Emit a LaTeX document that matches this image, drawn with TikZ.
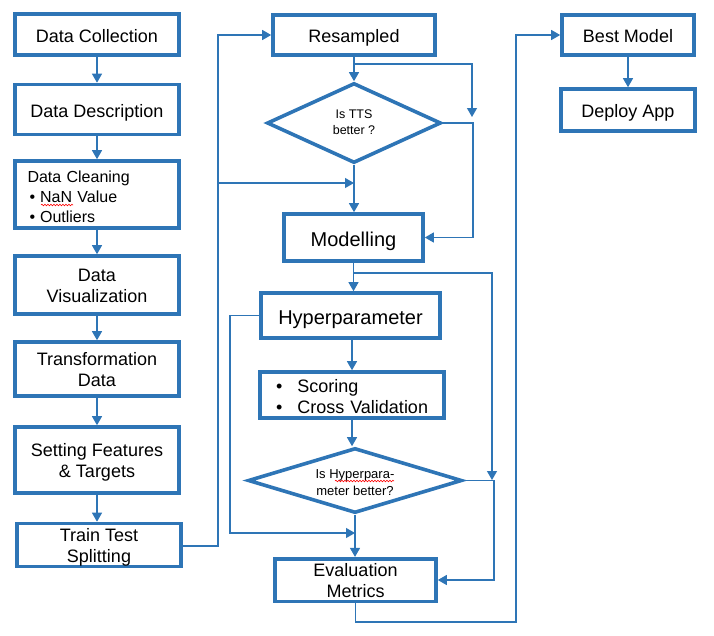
\documentclass[tikz,border=0pt]{standalone}
\usepackage{fontspec}
\setmainfont{Liberation Sans}
\usetikzlibrary{arrows.meta,shapes.geometric,decorations.pathmorphing}
\definecolor{flowblue}{RGB}{46,117,182}
\newcommand\topstrut{\rule{0pt}{1.08em}}
\newcommand\toptwo{\rule{0pt}{1.0em}}
\newcommand\botstrut{\rule[-0.2em]{0pt}{0.2em}}
\tikzset{
 box/.style={draw=flowblue, line width=3.6pt, fill=white, inner sep=0pt, align=center, font=\fontsize{18}{21}\selectfont,
   execute at begin node=\topstrut, execute at end node=\botstrut},
 dia/.style={diamond, draw=flowblue, line width=3.6pt, fill=white, inner sep=0pt, align=center,
   execute at begin node=\topstrut, execute at end node=\botstrut},
 conn/.style={draw=flowblue, line width=1.2pt},
 arr/.style={conn, -{Triangle[length=9pt,width=10pt]}},
 squig/.style={draw=red, line width=0.6pt, decorate, decoration={snake, amplitude=0.8pt, segment length=3pt}}
}
\begin{document}
\begin{tikzpicture}[x=1pt,y=-1pt]
\useasboundingbox (0,0) rectangle (714,635);
% left column
\node[box, minimum width=164pt, minimum height=41pt] (dc) at (97,34.5) {Data Collection};
\node[box, minimum width=164pt, minimum height=50pt] (dd) at (97,109.5) {Data Description};
\node[box, execute at begin node={\rule{0pt}{1.25em}}, minimum width=164pt, minimum height=67pt, text width=139pt, align=left, font=\fontsize{16}{20}\selectfont] (dcl) at (97,194.5)
 {Data Cleaning\\\hspace*{2pt}\textbullet\hspace{5pt}NaN Value\\\hspace*{2pt}\textbullet\hspace{5pt}Outliers};
\node[box, minimum width=164pt, minimum height=58pt] (dv) at (97,285) {\toptwo Data\\Visualization};
\node[box, minimum width=164pt, minimum height=54pt] (td) at (97,369) {\toptwo Transformation\\Data};
\node[box, minimum width=164pt, minimum height=66pt] (sf) at (97,460) {\toptwo Setting Features\\\& Targets};
\node[box, minimum width=164pt, minimum height=43pt] (tt) at (99,545) {\toptwo Train Test\\Splitting};
% middle column
\node[box, minimum width=162pt, minimum height=40pt] (rs) at (354,35) {Resampled};
\node[dia, minimum width=174pt, minimum height=80pt, shape aspect=2.2, font=\fontsize{12.5}{16}\selectfont] (d1) at (354,123) {Is TTS\\better ?};
\node[box, minimum width=139pt, minimum height=47pt, font=\fontsize{20}{24}\selectfont] (mo) at (353.5,237.5) {Modelling};
\node[box, minimum width=179pt, minimum height=45pt, font=\fontsize{20}{24}\selectfont] (hp) at (350.5,315.5) {Hyperparameter};
\node[box, minimum width=184pt, minimum height=46pt, text width=162pt, align=left, font=\fontsize{18}{21}\selectfont] (sc) at (352,395)
 {\hspace*{5pt}\textbullet\hspace{15pt}Scoring\\\hspace*{5pt}\textbullet\hspace{15pt}Cross Validation};
\node[dia, minimum width=214pt, minimum height=65pt, shape aspect=3.3, font=\fontsize{13}{17}\selectfont] (d2) at (355,480.5) {\rule{0pt}{1.19em}Is Hyperpara-\\meter better?};
\node[box, minimum width=161pt, minimum height=42pt] (em) at (355.5,580) {\toptwo Evaluation\\Metrics};
% right column
\node[box, minimum width=132pt, minimum height=40pt] (bm) at (628,35) {Best Model};
\node[box, minimum width=134pt, minimum height=42pt] (da) at (628,110) {Deploy App};
% spell-check marks
\draw[squig] (41,205) -- (73,205);
\draw[squig] (335,481) -- (394,481);
% left column arrows
\draw[arr] (dc.south) -- (dd.north);
\draw[arr] (dd.south) -- (dcl.north);
\draw[arr] (dcl.south) -- (dv.north);
\draw[arr] (dv.south) -- (td.north);
\draw[arr] (td.south) -- (sf.north);
\draw[arr] (sf.south) -- (sf.south |- tt.north);
% coordinates
\coordinate (lA) at (218,546);
\coordinate (j1) at (218,183);
\coordinate (j2) at (354,64);
\coordinate (r1) at (472,117);
\coordinate (r2) at (473,123);
\coordinate (j3) at (353.5,273);
\coordinate (r3) at (492,480);
\coordinate (l2) at (230,533);
\coordinate (r4) at (494,480.5);
\coordinate (b1) at (516,622);
% middle connectors
\draw[arr] (tt.east |- lA) -- (lA) |- (rs.west);
\draw[arr] (j1) -- (d1.south |- j1);
\draw[arr] (rs.south) -- (d1.north);
\draw[arr] (j2) -| (r1);
\draw[arr] (d1.east) -- (r2) |- (mo.east);
\draw[arr] (d1.south) -- (d1.south |- mo.north);
\draw[arr] (mo.south) -- (mo.south |- hp.north);
\draw[arr] (j3) -| (r3);
\draw[arr] (hp.west) -| (l2) -- (d2.south |- l2);
\draw[arr] (hp.south -| 352,0) -- (352,0 |- sc.north);
\draw[arr] (sc.south) -- (sc.south |- d2.north);
\draw[arr] (d2.east) -- (r4) |- (em.east);
\draw[arr] (d2.south) -- (d2.south |- em.north);
\draw[arr] (em.south) |- (b1) |- (bm.west);
\draw[arr] (bm.south) -- (da.north);
\end{tikzpicture}
\end{document}
